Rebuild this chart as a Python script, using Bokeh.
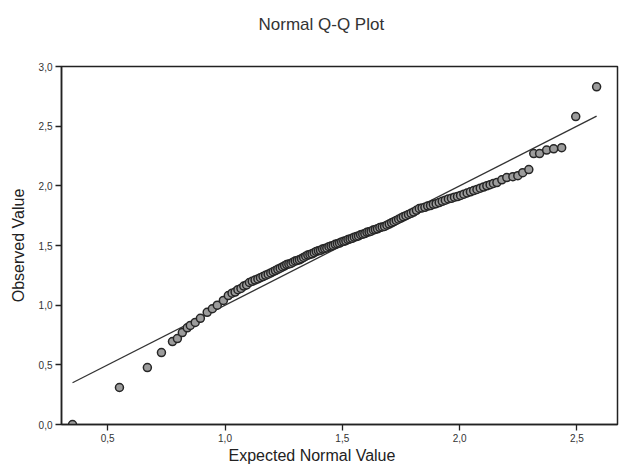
from bokeh.plotting import figure
from bokeh.models import (CustomJSTickFormatter, FixedTicker, Range1d, ColumnDataSource,
                          Title, LinearAxis)
from bokeh.embed import file_html
from bokeh.resources import INLINE

title_text = "Normal Q-Q Plot"
x_label = "Expected Normal Value"
y_label = "Observed Value"
x_ticks = [0.5, 1.0, 1.5, 2.0, 2.5]
y_ticks = [0.0, 0.5, 1.0, 1.5, 2.0, 2.5, 3.0]

expected = [
    0.350, 0.550, 0.669, 0.729, 0.776, 0.797, 0.818, 0.839, 0.852, 0.873,
    0.895, 0.924, 0.946, 0.967, 0.993, 1.014,
    1.030, 1.043, 1.055, 1.068, 1.080, 1.092, 1.104, 1.116, 1.128, 1.140,
    1.151, 1.162, 1.173, 1.184, 1.195, 1.205, 1.215, 1.225, 1.235,
    1.245, 1.254, 1.263, 1.272, 1.281, 1.290, 1.299, 1.308, 1.317, 1.326,
    1.335, 1.344, 1.353, 1.362, 1.371, 1.380, 1.389, 1.398, 1.407, 1.416,
    1.425, 1.434, 1.443, 1.452, 1.461, 1.470, 1.479, 1.488,
    1.497, 1.506, 1.515, 1.524, 1.533, 1.542, 1.551, 1.560, 1.569, 1.578,
    1.587, 1.596, 1.605, 1.614, 1.623, 1.632, 1.641, 1.650, 1.660, 1.670,
    1.680, 1.690,
    1.700, 1.710, 1.720, 1.730, 1.740, 1.750, 1.760, 1.771, 1.782, 1.793,
    1.804, 1.816, 1.828,
    1.840, 1.852, 1.864, 1.876, 1.888, 1.900, 1.913, 1.926, 1.939, 1.952,
    1.965, 1.978, 1.991, 2.004, 2.018, 2.032, 2.046, 2.060, 2.074, 2.088,
    2.102, 2.116, 2.130, 2.144,
    2.159, 2.180, 2.201, 2.227, 2.248, 2.269, 2.295,
    2.316, 2.341, 2.371, 2.401, 2.435, 2.495, 2.584,
]
observed = [
    0.000, 0.310, 0.477, 0.603, 0.695, 0.720, 0.770, 0.810, 0.830, 0.855,
    0.890, 0.940, 0.970, 1.000, 1.040, 1.080,
    1.100, 1.110, 1.130, 1.140, 1.160, 1.170, 1.190, 1.200, 1.210, 1.220,
    1.230, 1.240, 1.250, 1.260, 1.270, 1.280, 1.290, 1.300, 1.310,
    1.320, 1.330, 1.340, 1.345, 1.350, 1.360, 1.370, 1.375, 1.380, 1.390,
    1.400, 1.410, 1.420, 1.425, 1.430, 1.440, 1.450, 1.455, 1.460, 1.470,
    1.475, 1.480, 1.490, 1.495, 1.500, 1.510, 1.515, 1.520,
    1.530, 1.535, 1.540, 1.550, 1.555, 1.560, 1.570, 1.575, 1.580, 1.590,
    1.595, 1.600, 1.610, 1.615, 1.620, 1.630, 1.635, 1.640, 1.650, 1.655,
    1.660, 1.670,
    1.680, 1.690, 1.700, 1.710, 1.720, 1.730, 1.740, 1.750, 1.760, 1.770,
    1.780, 1.795, 1.810,
    1.815, 1.820, 1.830, 1.835, 1.845, 1.850, 1.860, 1.870, 1.880, 1.890,
    1.895, 1.905, 1.910, 1.920, 1.930, 1.940, 1.950, 1.960, 1.970, 1.980,
    1.990, 2.000, 2.010, 2.020,
    2.027, 2.050, 2.069, 2.077, 2.085, 2.110, 2.136,
    2.270, 2.270, 2.300, 2.310, 2.320, 2.580, 2.830,
]

FONT = "Liberation Sans"

p = figure(width=620, height=469, output_backend="svg", toolbar_location=None,
           title=None,
           x_range=Range1d(0.303, 2.673), y_range=Range1d(0.0, 3.0),
           min_border_left=61, min_border_right=3, min_border_top=66, min_border_bottom=45)
p.background_fill_color = "white"
p.border_fill_color = "white"
p.outline_line_color = "#222222"
p.outline_line_width = 1.5
p.xgrid.visible = False
p.ygrid.visible = False

fmt = CustomJSTickFormatter(code="return tick.toFixed(1).replace('.', ',');")
for ax, ticks in ((p.xaxis[0], x_ticks), (p.yaxis[0], y_ticks)):
    ax.ticker = FixedTicker(ticks=ticks)
    ax.formatter = fmt
    ax.minor_tick_line_color = None
    ax.major_tick_in = 0
    ax.major_tick_out = 6
    ax.major_tick_line_color = "#222222"
    ax.major_tick_line_width = 1.3
    ax.axis_line_color = "#222222"
    ax.axis_line_width = 1.5
    ax.major_label_text_font = FONT
    ax.major_label_text_font_size = "10px"
    ax.major_label_text_color = "#333333"
    ax.major_label_standoff = 3

p.yaxis[0].axis_label = y_label
p.yaxis[0].axis_label_standoff = 9
p.yaxis[0].axis_label_text_font = FONT
p.yaxis[0].axis_label_text_font_size = "16px"
p.yaxis[0].axis_label_text_font_style = "normal"
p.yaxis[0].axis_label_text_color = "#222222"

# reference line (y = x) across the range of expected values
xmin, xmax = min(expected), max(expected)
p.line([xmin, xmax], [xmin, xmax], line_color="#333333", line_width=1.3)

src = ColumnDataSource(dict(x=expected, y=observed))
p.scatter("x", "y", source=src, size=8, marker="circle",
          fill_color="#9c9c9c", line_color="#262626", line_width=1.5)

# invisible spacer axis above the frame, so the title sits higher
spacer = LinearAxis(ticker=FixedTicker(ticks=[1.5]), major_tick_out=28, major_tick_in=0,
                    axis_line_color=None, major_tick_line_color=None,
                    minor_tick_line_color=None, major_label_standoff=0,
                    formatter=CustomJSTickFormatter(code="return '';"),
                    major_label_text_font_size="1px")
p.add_layout(spacer, "above")

p.add_layout(Title(text=title_text, align="left", offset=197, standoff=10,
                   text_font=FONT, text_font_size="17px", text_font_style="normal",
                   text_color="#333333"), "above")

# x-axis title, centred on the page as in the reference
p.add_layout(Title(text=x_label, align="left", offset=167, standoff=4,
                   vertical_align="top",
                   text_font=FONT, text_font_size="16px", text_font_style="normal",
                   text_color="#222222"), "below")

open("out.html", "w").write(file_html(p, INLINE))
